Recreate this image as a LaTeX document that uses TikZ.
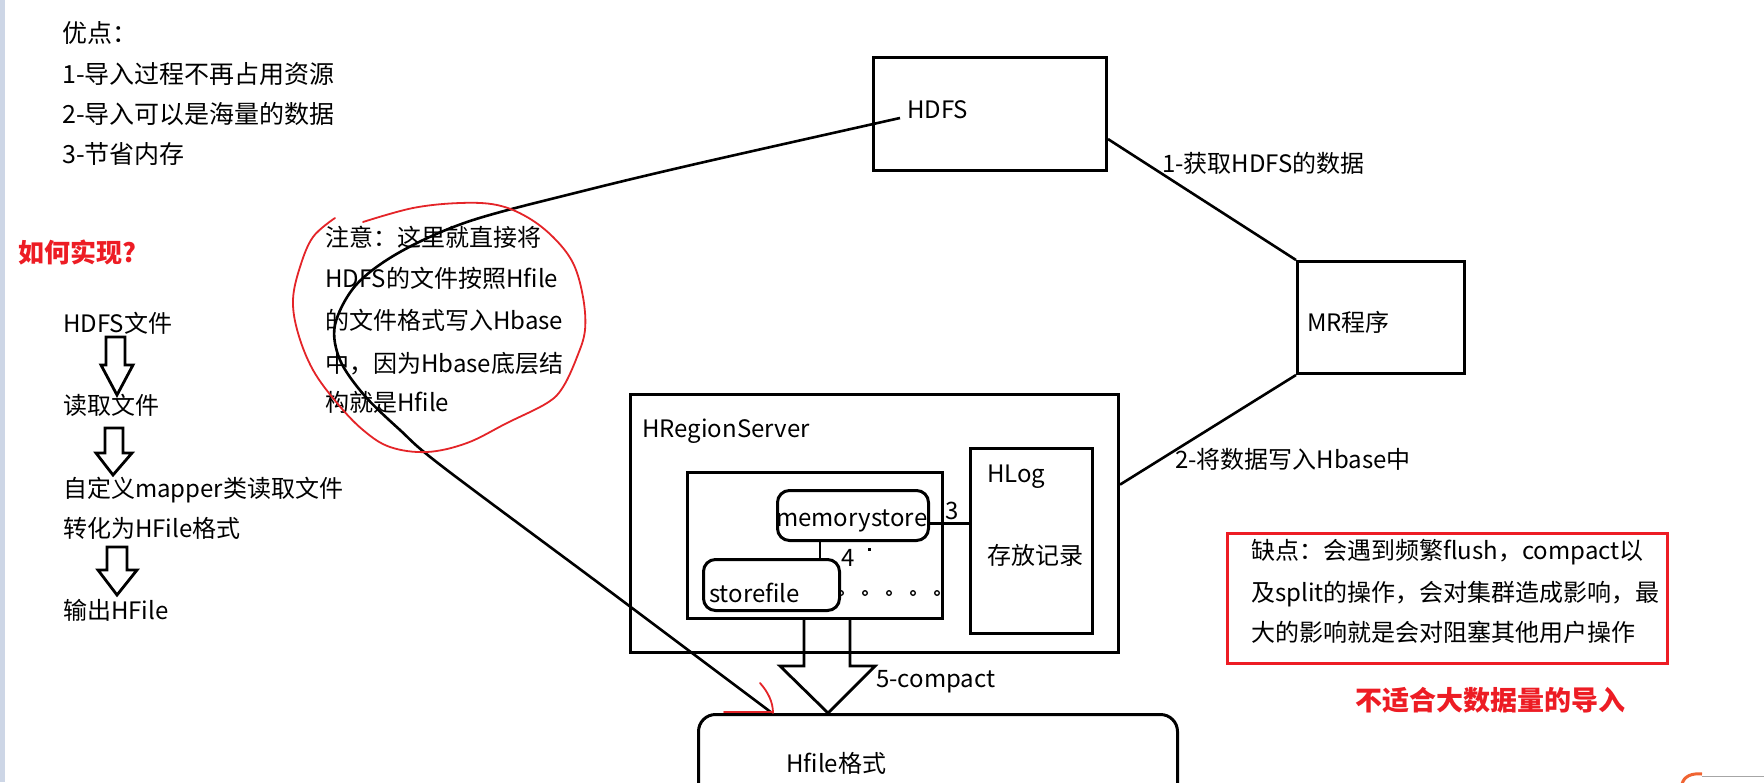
\documentclass[tikz,border=0pt]{standalone}
\usepackage{fontspec}
\setmainfont{Noto Sans CJK SC}
\usetikzlibrary{calc}
\definecolor{pred}{RGB}{237,28,36}
\definecolor{hred}{RGB}{228,36,40}
\definecolor{stripc}{RGB}{205,214,230}
\definecolor{orng}{RGB}{240,100,50}
\begin{document}
\begin{tikzpicture}[x=1pt,y=-1pt,
  txt/.style={inner sep=0pt, anchor=base west, font=\fontsize{24}{28}\selectfont},
  bigtxt/.style={txt, font=\fontsize{25}{30}\selectfont},
  redtxt/.style={txt, text=pred, font=\fontsize{#1}{#1}\selectfont\bfseries},
  box/.style={draw, line width=3pt, inner sep=0pt, anchor=north west},
  rbox/.style={box, rounded corners=12pt},
  conn/.style={line width=2.6pt},
  hollow/.style={line width=2.8pt, line join=miter},
  handred/.style={hred, line width=1.8pt, line cap=round},
  ]
\useasboundingbox (0,0) rectangle (1764,782);
\clip (0,0) rectangle (1764,782);
\fill[white] (0,0) rectangle (1764,782);
\fill[stripc] (0,0) rectangle (5,782);

% ---- top-left advantages
\node[bigtxt] (adv0) at (62,42) {优点：};
\node[bigtxt] (adv1) at (62,83) {1-导入过程不再占用资源};
\node[bigtxt] (adv2) at (62,123) {2-导入可以是海量的数据};
\node[bigtxt] (adv3) at (62,163) {3-节省内存};

% ---- how
\node[redtxt=26] (how) at (18,262) {如何实现?};
\node[txt] (s1) at (63,332) {HDFS文件};
\node[txt] (s2) at (63,414) {读取文件};
\node[txt] (s3) at (63,497) {自定义mapper类读取文件};
\node[txt] (s4) at (63,537) {转化为HFile格式};
\node[txt] (s5) at (63,619) {输出HFile};
\draw[hollow] (106,337) -- (106,365) -- (101,365) -- (117,395) -- (133,365) -- (125,365) -- (125,337) -- cycle;
\draw[hollow] (105,428) -- (105,453) -- (96,453) -- (113,475) -- (132,453) -- (123,453) -- (123,428) -- cycle;
\draw[hollow] (107,547) -- (107,570) -- (98,570) -- (117,595) -- (137,570) -- (127,570) -- (127,547) -- cycle;

% ---- note
\node[txt] (n1) at (325,246) {注意：这里就直接将};
\node[txt] (n2) at (325,287) {HDFS的文件按照Hfile};
\node[txt] (n3) at (325,329) {的文件格式写入Hbase};
\node[txt] (n4) at (325,372) {中，因为Hbase底层结};
\node[txt] (n5) at (325,411) {构就是Hfile};

% ---- HDFS / MR
\node[box, minimum width=233pt, minimum height=113pt] (hdfs) at (872,56) {};
\node[txt] (hdfst) at (907,118) {HDFS};
\node[box, minimum width=167pt, minimum height=112pt] (mr) at (1296,260) {};
\node[txt] (mrt) at (1307,331) {MR程序};
\draw[conn] (hdfs.-12) -- (mr.north west);
\node[txt] (l1) at (1162,172) {1-获取HDFS的数据};

% ---- HRegionServer
\node[box, minimum width=488pt, minimum height=258pt] (hrs) at (629,393) {};
\node[txt] (hrst) at (642,437) {HRegionServer};
\draw[conn] (mr.south west) -- (hrs.9.5);
\node[txt] (l2) at (1175,468) {2-将数据写入Hbase中};

\node[box, minimum width=255pt, minimum height=146pt] (store) at (686,471) {};
\node[rbox, minimum width=151pt, minimum height=50pt] (mem) at (776,489) {};
\node[txt] (memt) at (776,526) {memorystore};
\node[rbox, minimum width=136pt, minimum height=51pt] (sf) at (702,558) {};
\node[txt] (sft) at (709,602) {storefile};
\draw[conn] ($(mem.south west)+(44,0)$) -- ($(sf.north west)+(118,0)$);
\node[txt] (four) at (841,566) {4};
\fill (867.5,547.5) rectangle (870.5,550.5);
\foreach \x in {841,865,889,913,937} \draw[line width=1.3pt] (\x,593) circle (2.3pt);

\node[box, minimum width=122pt, minimum height=185pt] (hlog) at (969,447) {};
\node[txt] (hlogt) at (987,482) {HLog};
\node[txt] (hlogr) at (987,564) {存放记录};
\draw[conn] (mem.-6) -- (mem.-6 -| hlog.west);
\node[txt] (three) at (945,519) {3};

% ---- compact arrow and Hfile
\node[box, rounded corners=17pt, minimum width=479pt, minimum height=150pt] (hfile) at (697,713) {};
\node[txt] (hfilet) at (786,772) {Hfile格式};
\draw[hollow] (804,617) -- (804,666) -- (780,666) -- (828,713) -- (875,666) -- (850,666) -- (850,617);
\node[txt] (l5) at (876,687) {5-compact};

% ---- long curve from HDFS to Hfile
\draw[line width=2.6pt] plot[smooth, tension=0.55] coordinates {(900,118) (700,163) (583,191) (470,221) (400,252) (356,285) (335,325) (340,360) (364,395) (400,430) (443,467) (608,590) (772,713)};

% ---- red hand marks
\draw[handred] plot[smooth, tension=0.6] coordinates {(335,218) (313,237) (300,267) (293,300) (298,333) (313,370) (337,403) (363,430) (390,447) (427,452) (467,443) (507,423) (547,403) (563,387) (577,357) (585,330) (583,297) (573,263) (553,237) (527,217) (497,205) (460,203) (413,208) (363,222)};
\draw[handred] (724,712) -- (772,712);
\draw[handred] (760,683) .. controls (768,692) and (773,702) .. (773,713);

% ---- disadvantages
\node[box, draw=pred, minimum width=440pt, minimum height=130pt] (bad) at (1226,532) {};
\node[txt] (b1) at (1251,559) {缺点：会遇到频繁flush，compact以};
\node[txt] (b2) at (1251,601) {及split的操作，会对集群造成影响，最};
\node[txt] (b3) at (1251,641) {大的影响就是会对阻塞其他用户操作};
\node[redtxt=27] (unfit) at (1355,710) {不适合大数据量的导入};

% ---- corner artifact
\draw[orng, line width=3pt] (1682,784) .. controls (1684,776) and (1692,773) .. (1702,774);
\draw[black!35, line width=1pt] (1702,776) -- (1764,776);
\end{tikzpicture}
\end{document}
